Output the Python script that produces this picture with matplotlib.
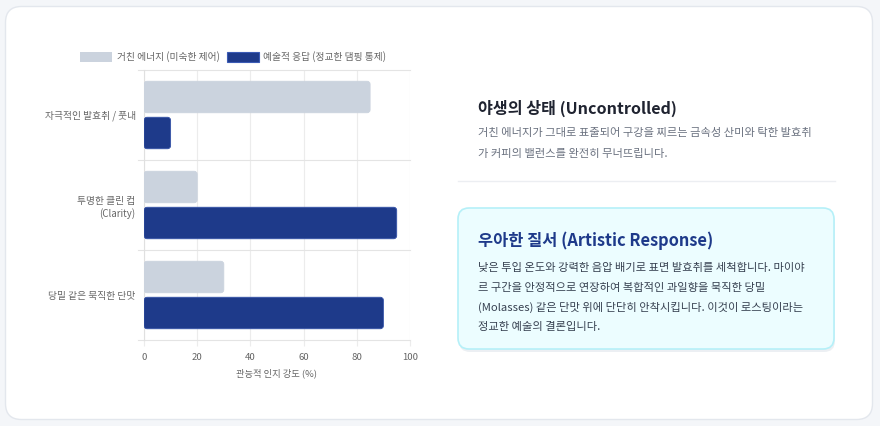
import matplotlib
matplotlib.use("Agg")
import matplotlib.pyplot as plt
from matplotlib.patches import FancyBboxPatch
import numpy as np

plt.rcParams['font.family'] = ['Noto Sans CJK KR', 'DejaVu Sans']

# data
categories = ['자극적인 발효취 / 풋내', '투명한 클린 컵\n(Clarity)', '당밀 같은 묵직한 단맛']
raw_energy = [85, 20, 30]
artistic = [10, 95, 90]
series_names = ['거친 에너지 (미숙한 제어)', '예술적 응답 (정교한 댐핑 통제)']
x_ticks = [0, 20, 40, 60, 80, 100]
x_label = '관능적 인지 강도 (%)'

title_1 = '야생의 상태 (Uncontrolled)'
body_1 = ['거친 에너지가 그대로 표출되어 구강을 찌르는 금속성 산미와 탁한 발효취',
          '가 커피의 밸런스를 완전히 무너뜨립니다.']
title_2 = '우아한 질서 (Artistic Response)'
body_2 = ['낮은 투입 온도와 강력한 음압 배기로 표면 발효취를 세척합니다. 마이야',
          '르 구간을 안정적으로 연장하여 복합적인 과일향을 묵직한 당밀',
          '(Molasses) 같은 단맛 위에 단단히 안착시킵니다. 이것이 로스팅이라는',
          '정교한 예술의 결론입니다.']

GRAY = '#cbd3de'
NAVY = '#1e3a8a'
W, H = 880, 426

fig = plt.figure(figsize=(W / 100, H / 100), dpi=100)
fig.patch.set_facecolor('#f4f6f9')

# background layer in pixel coordinates
bg = fig.add_axes([0, 0, 1, 1])
bg.set_xlim(0, W)
bg.set_ylim(H, 0)
bg.axis('off')

card = FancyBboxPatch((5.5, 6.5), 867, 413, boxstyle='round,pad=0,rounding_size=16',
                      facecolor='white', edgecolor='#e3e7ed', linewidth=1)
bg.add_patch(card)

# right side text
bg.text(478, 108, title_1, fontsize=11.6, fontweight='bold', color='#1f2330', va='center')
for i, line in enumerate(body_1):
    bg.text(478, 133 + i * 21, line, fontsize=8.1, color='#6b7280', va='center')
bg.plot([458, 835], [181, 181], color='#eceef2', linewidth=1)

shadow = FancyBboxPatch((459, 211), 376, 141, boxstyle='round,pad=0,rounding_size=11',
                        facecolor='#d5dde5', edgecolor='none', alpha=0.45)
bg.add_patch(shadow)
box = FancyBboxPatch((458, 208), 376, 141, boxstyle='round,pad=0,rounding_size=11',
                     facecolor='#ecfdff', edgecolor='#b5f0f8', linewidth=1.2)
bg.add_patch(box)
bg.text(478, 241, title_2, fontsize=11.8, fontweight='bold', color=NAVY, va='center')
for i, line in enumerate(body_2):
    bg.text(478, 268 + i * 19.7, line, fontsize=8.1, color='#374151', va='center')

# legend
bg.add_patch(plt.Rectangle((80, 52), 32, 10, facecolor=GRAY, edgecolor='none'))
bg.text(117, 57, series_names[0], fontsize=7.0, color='#666666', va='center')
bg.add_patch(plt.Rectangle((227, 52), 32, 10, facecolor=NAVY, edgecolor='#3b5bb5', linewidth=0.8))
bg.text(263, 57, series_names[1], fontsize=7.0, color='#666666', va='center')

# chart
ax = fig.add_axes([144 / W, 1 - 340 / H, 266 / W, 270 / H])
ax.set_facecolor('none')
y = np.arange(len(categories))
off = 0.2
hgt = 0.35

bars1 = ax.barh(y - off, raw_energy, height=hgt, color=GRAY)
bars2 = ax.barh(y + off, artistic, height=hgt, color=NAVY)

# swap rectangles for slightly rounded ones
rx = 100 / 266 * 3
ry = 3 / 90
for bars, col, ec in [(bars1, GRAY, GRAY), (bars2, NAVY, '#3553a8')]:
    for r in bars:
        r.set_visible(False)
        p = FancyBboxPatch((r.get_x(), r.get_y()), r.get_width(), r.get_height(),
                           boxstyle=f'round,pad=0,rounding_size={rx}',
                           mutation_aspect=ry / rx, facecolor=col, edgecolor=ec,
                           linewidth=0.6, zorder=3)
        ax.add_patch(p)

ax.set_xlim(0, 100)
ax.set_ylim(len(categories) - 0.5, -0.5)
ax.set_xticks(x_ticks)
ax.set_yticks(y)
ax.set_yticklabels(categories, fontsize=7.0, color='#666666', linespacing=1.3)
ax.set_xticklabels([str(t) for t in x_ticks], fontsize=6.9, color='#666666')
ax.set_xlabel(x_label, fontsize=6.7, color='#666666', labelpad=5)

for s in ['top', 'right', 'bottom']:
    ax.spines[s].set_visible(False)
ax.spines['left'].set_color('#e0e0e0')
ax.spines['left'].set_linewidth(0.8)

ax.grid(axis='x', color='#ececec', linewidth=0.8, zorder=0)
ax.set_axisbelow(True)
for b in np.arange(-0.5, len(categories), 1.0):
    ax.plot([-2.3, 100], [b, b], color='#e4e4e4', linewidth=0.8, clip_on=False, zorder=1)
ax.tick_params(axis='x', length=4, color='#ececec', pad=5)
ax.tick_params(axis='y', length=0, pad=6)

fig.savefig('out.png', dpi=100, facecolor=fig.get_facecolor())
